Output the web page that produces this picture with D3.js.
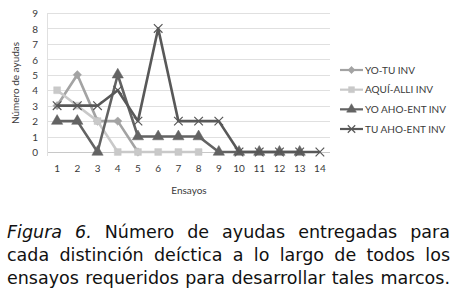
<!DOCTYPE html>
<meta charset="utf-8">
<title>Figura 6</title>
<style>
  html, body { margin: 0; padding: 0; background: #fff; }
  svg { display: block; }
  .tick text { font-family: Lato, "Open Sans", Arial, sans-serif; font-size: 10px; fill: #3a3a3a; }
</style>
<body>
<script src="https://d3js.org/d3.v7.min.js"></script>
<script>

// data
var ensayos = [1, 2, 3, 4, 5, 6, 7, 8, 9, 10, 11, 12, 13, 14];
var yTicks = [0, 1, 2, 3, 4, 5, 6, 7, 8, 9];
var seriesNames = ["YO-TU INV", "AQUÍ-ALLI INV", "YO AHO-ENT INV", "TU AHO-ENT INV"];
var yoTu    = [3, 5, 2, 2, 0];
var aquiAlli = [4, 3, 2, 0, 0, 0, 0, 0];
var yoAhoEnt = [2, 2, 0, 5, 1, 1, 1, 1, 0, 0, 0, 0, 0];
var tuAhoEnt = [3, 3, 3, 4, 2, 8, 2, 2, 2, 0, 0, 0, 0, 0];
var captionLines = [
  ["Figura", "6.", "Número", "de", "ayudas", "entregadas", "para"],
  ["cada", "distinción", "deíctica", "a", "lo", "largo", "de", "todos", "los"],
  ["ensayos", "requeridos", "para", "desarrollar", "tales", "marcos."]
];

var series = [
  {name: seriesNames[0], values: yoTu,     color: "#a3a3a3", symbol: d3.symbolDiamond2, size: 45},
  {name: seriesNames[1], values: aquiAlli, color: "#c9c9c9", symbol: d3.symbolSquare2,  size: 60},
  {name: seriesNames[2], values: yoAhoEnt, color: "#636363", symbol: d3.symbolTriangle, size: 55},
  {name: seriesNames[3], values: tuAhoEnt, color: "#585858", symbol: d3.symbolX,        size: 50}
];

var width = 452, height = 301;

var svg = d3.select("body").append("svg")
    .attr("width", width)
    .attr("height", height);

// scales
var x = d3.scaleBand().domain(ensayos).range([47, 330]);
var y = d3.scaleLinear().domain([0, 9]).range([152, 13]);
var cx = function(i) { return x(ensayos[i]) + x.bandwidth() / 2; };

// gridlines
svg.append("g")
  .selectAll("line")
  .data(yTicks)
  .join("line")
    .attr("x1", 47).attr("x2", 330)
    .attr("y1", function(d) { return Math.round(y(d)) + 0.5; })
    .attr("y2", function(d) { return Math.round(y(d)) + 0.5; })
    .attr("stroke", function(d) { return d === 0 ? "#c8c8c8" : "#e0e0e0"; })
    .attr("stroke-width", 1);

svg.append("line")
    .attr("x1", 47.5).attr("x2", 47.5)
    .attr("y1", y(9)).attr("y2", y(0) + 4)
    .attr("stroke", "#e0e0e0");

// axes
var yAxis = svg.append("g")
    .attr("transform", "translate(47,0.5)")
    .call(d3.axisLeft(y).tickValues(yTicks).tickSize(0).tickPadding(9));
yAxis.select(".domain").remove();

var xAxis = svg.append("g")
    .attr("transform", "translate(0,162)")
    .call(d3.axisBottom(x).tickSize(0).tickPadding(3));
xAxis.select(".domain").remove();

svg.append("text")
    .attr("transform", "translate(19,83) rotate(-90)")
    .attr("text-anchor", "middle")
    .style("font-family", "Lato, 'Open Sans', Arial, sans-serif")
    .style("font-size", "10px")
    .attr("fill", "#3a3a3a")
    .text("Número de ayudas");

svg.append("text")
    .attr("x", 189).attr("y", 194)
    .attr("text-anchor", "middle")
    .style("font-family", "Lato, 'Open Sans', Arial, sans-serif")
    .style("font-size", "10px")
    .attr("fill", "#3a3a3a")
    .text("Ensayos");

// lines + markers
var line = d3.line()
    .x(function(d, i) { return cx(i); })
    .y(function(d) { return y(d); });

series.forEach(function(s) {
  var g = svg.append("g");
  g.append("path")
    .attr("d", line(s.values))
    .attr("fill", "none")
    .attr("stroke", s.color)
    .attr("stroke-width", 2.6)
    .attr("stroke-linejoin", "round");
  var sym = d3.symbol().type(s.symbol).size(s.size);
  g.selectAll("path.m")
    .data(s.values)
    .join("path")
      .attr("class", "m")
      .attr("transform", function(d, i) { return "translate(" + cx(i) + "," + y(d) + ")"; })
      .attr("d", sym)
      .attr("fill", s.color)
      .attr("stroke", s.color)
      .attr("stroke-width", s.symbol === d3.symbolX ? 1.2 : 0.5);
});

// legend
var legendY = d3.scalePoint().domain(seriesNames).range([70, 129]);
var legend = svg.append("g")
  .selectAll("g")
  .data(series)
  .join("g")
    .attr("transform", function(d) { return "translate(340," + legendY(d.name) + ")"; });
legend.append("line")
    .attr("x1", 0).attr("x2", 23)
    .attr("stroke", function(d) { return d.color; })
    .attr("stroke-width", 2.2);
legend.append("path")
    .attr("transform", "translate(11.5,0)")
    .attr("d", function(d) { return d3.symbol().type(d.symbol).size(d.size * 0.75)(); })
    .attr("fill", function(d) { return d.color; })
    .attr("stroke", function(d) { return d.color; })
    .attr("stroke-width", function(d) { return d.symbol === d3.symbolX ? 1.2 : 0.5; });
legend.append("text")
    .attr("x", 25).attr("dy", "0.35em")
    .style("font-family", "Lato, 'Open Sans', Arial, sans-serif")
    .style("font-size", "10px")
    .attr("fill", "#3a3a3a")
    .text(function(d) { return d.name; });

// caption, justified word by word
var capLeft = 7, capRight = 450, baselines = [238, 261, 284];
var caption = svg.append("g")
    .style("font-family", "'DejaVu Sans', Verdana, sans-serif")
    .attr("fill", "#111");

// size the font so the last line fills the width with ordinary spaces
var probe = caption.append("text").style("font-size", "16px")
    .text(captionLines[2].join(" "));
var fs = 16 * (capRight - capLeft - 4) / probe.node().getComputedTextLength();
probe.remove();
caption.style("font-size", fs + "px");

captionLines.forEach(function(words, li) {
  var nodes = words.map(function(w, wi) {
    var t = caption.append("text")
        .attr("y", baselines[li])
        .text(w);
    if (li === 0 && wi < 2) t.style("font-style", "italic");
    return t;
  });
  var widths = nodes.map(function(t) { return t.node().getComputedTextLength(); });
  var gap = (capRight - capLeft - d3.sum(widths)) / (words.length - 1);
  var pos = capLeft;
  nodes.forEach(function(t, i) {
    t.attr("x", pos);
    pos += widths[i] + gap;
  });
});

</script>
</body>
